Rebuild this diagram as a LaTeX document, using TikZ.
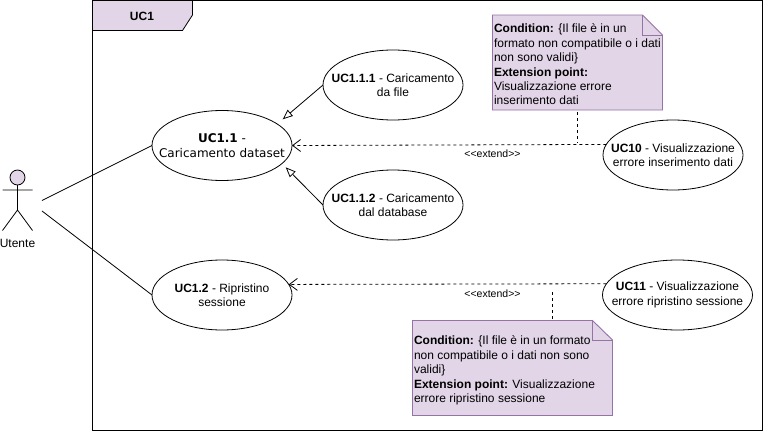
\documentclass[tikz,border=0pt]{standalone}
\usepackage{fontspec}
\setmainfont{Liberation Sans}
\newfontfamily\dejavu{DejaVu Sans}
\usetikzlibrary{shapes.geometric,arrows.meta}
\definecolor{lilac}{HTML}{E1D5E7}
\definecolor{lilacline}{HTML}{9673A6}
\tikzset{
  x=1pt,y=-1pt,
  every node/.style={font=\fontsize{12}{14.4}\selectfont,inner sep=0pt,outer sep=0pt},
  usecase/.style={draw=black,fill=white,ellipse,line width=0.8pt,minimum width=#1,minimum height=70pt},
  usecase/.default=140pt,
  uctxt/.style={align=center,anchor=center},
  line/.style={line width=0.8pt,draw=black},
  dep/.style={line width=0.8pt,dash pattern=on 3pt off 3pt,draw=black},
  tri/.style={-{Triangle[open,fill=white,length=10pt,width=8pt]}},
  openv/.style={-{Straight Barb[length=8pt,width=12pt]}},
  notetxt/.style={align=left,anchor=north west},
  notebox/.style={fill=lilac,draw=lilacline,line width=0.9pt,line join=miter},
  ext/.style={font=\fontsize{10.5}{12}\selectfont,anchor=center},
}
\begin{document}
\begin{tikzpicture}
\useasboundingbox (0,0) rectangle (763,431);
% frame
\draw[line,line width=1pt,fill=white] (92.5,0.5) rectangle (762,430.5);

% use cases
\node[usecase] (uc11) at (222,145.5) {};
\node[uctxt] (uc11t) at (uc11.center) {\dejavu\textbf{UC1.1} -\\\dejavu Caricamento dataset};
\node[usecase] (uc111) at (393,85) {};
\node[uctxt] (uc111t) at (uc111.center) {\textbf{UC1.1.1} - Caricamento\\da file};
\node[usecase] (uc112) at (393,205) {};
\node[uctxt] (uc112t) at (uc112.center) {\textbf{UC1.1.2} - Caricamento\\dal database};
\node[usecase] (uc12) at (222,295) {};
\node[uctxt] (uc12t) at (uc12.center) {\textbf{UC1.2} - Ripristino\\sessione};
\node[usecase] (uc10) at (673,155) {};
\node[uctxt] (uc10t) at (uc10.center) {\textbf{UC10} - Visualizzazione\\errore inserimento dati};
\node[usecase=150pt] (uc1x) at (677.5,295) {};
\node[uctxt] (uc1xt) at (uc1x.center) {\textbf{UC11} - Visualizzazione\\errore ripristino sessione};

% tab
\draw[line,fill=lilac] (92.5,0.5) -- (192.5,0.5) -- (192.5,15) -- (182.5,30.5) -- (92.5,30.5) -- cycle;
\node (tab) at (142,16) {\textbf{UC1}};

% actor
\coordinate (actA) at (42,200.5);
\coordinate (actB) at (42,211);
\coordinate (head) at (17.5,177.5);
\draw[line,fill=lilac] (head) circle (7.5);
\draw[line] (17.5,185) -- (17.5,210) (2.5,190) -- (32.5,190) (2.5,230.5) -- (17.5,210) -- (32.5,230.5);
\node (utente) at (17.5,243.5) {Utente};

\draw[line] (actA) -- (uc11.west);
\draw[line] (actB) -- (uc12.west);
\coordinate (tip1) at (282.7,119.3);
\coordinate (tip2) at (285.7,167.3);
\draw[line,tri] (uc111.west) -- (tip1);
\draw[line,tri] (uc112.west) -- (tip2);

% extends
\draw[dep,openv] (uc10.171.5) -- (uc11.east);
\draw[dep,openv] (uc1x.171.2) -- (uc12.9.4);
\node[ext] (e1) at (492.5,153.5) {<{}<extend>{}>};
\node[ext] (e2) at (492.5,293.5) {<{}<extend>{}>};

% notes
\coordinate (n1stem) at (577.5,112);
\coordinate (n1end) at (577.5,143);
\draw[dep] (n1stem) -- (n1end);
\draw[notebox] (492.5,15) -- (642.5,15) -- (662.5,35) -- (662.5,110) -- (492.5,110) -- cycle;
\draw[line width=0.9pt,draw=lilacline] (642.5,15) -- (642.5,35) -- (662.5,35);
\node[notetxt] (n1) at (494,24) {\textbf{Condition:} \{Il file è in un\\formato non compatibile o i dati\\non sono validi\}\\\textbf{Extension point:}\\Visualizzazione errore\\inserimento dati};

\coordinate (n2stem) at (552.5,292);
\coordinate (n2end) at (552.5,320);
\draw[dep] (n2stem) -- (n2end);
\draw[notebox] (412.5,320.5) -- (592.5,320.5) -- (612.5,340) -- (612.5,415.5) -- (412.5,415.5) -- cycle;
\draw[line width=0.9pt,draw=lilacline] (592.5,320.5) -- (592.5,340) -- (612.5,340);
\node[notetxt] (n2) at (414,336) {\textbf{Condition:} \{Il file è in un formato\\non compatibile o i dati non sono\\validi\}\\\textbf{Extension point:} Visualizzazione\\errore ripristino sessione};
\end{tikzpicture}
\end{document}
